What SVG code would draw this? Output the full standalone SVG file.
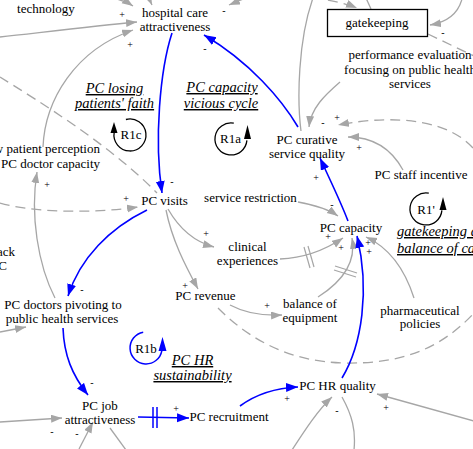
<svg xmlns="http://www.w3.org/2000/svg" width="473" height="449" viewBox="0 0 473 449">
<style>
.t{font-family:"Liberation Serif","Times New Roman",serif;font-size:13px;fill:#000;text-anchor:middle}
.st{text-anchor:start}
.en{text-anchor:end}
.i{font-style:italic;font-size:14.5px;text-decoration:underline}
.s{font-family:"Liberation Serif","Times New Roman",serif;font-size:10px;fill:#000;text-anchor:middle}
.g{fill:none;stroke:#a6a6a6;stroke-width:1.3}
.a{marker-end:url(#ag)}
.d{stroke-dasharray:10,6}
.b{fill:none;stroke:#0000ff;stroke-width:1.6;marker-end:url(#ab)}
.h{stroke:#a6a6a6;stroke-width:1.2}
.hb{stroke:#0000ff;stroke-width:1.5}
.loop{fill:none;stroke:#000;stroke-width:1.3}
.loopb{fill:none;stroke:#0000ff;stroke-width:1.5}
</style>
<defs>
<marker id="ag" markerUnits="userSpaceOnUse" markerWidth="12" markerHeight="9" refX="11" refY="4" orient="auto"><path d="M0,0 L11,4 L0,8 z" fill="#a6a6a6"/></marker>
<marker id="ab" markerUnits="userSpaceOnUse" markerWidth="13" markerHeight="10" refX="12" refY="4.5" orient="auto"><path d="M0,0 L12,4.5 L0,9 z" fill="#0000ff"/></marker>
</defs>
<rect width="473" height="449" fill="#fff"/>
<g id="connectors">
<path class="g a" d="M0,37 C45,32 95,26 137,22"/>
<path class="g a" d="M108,-3 Q124,0 133,6"/>
<path class="g a" d="M147,-6 L152,5"/>
<path class="g a" d="M255,-6 L229,5"/>
<path class="g a" d="M43,147 C45,100 75,50 133,30"/>
<path class="g d" d="M0,77 C40,102 110,145 157,193"/>
<path class="g d a" d="M0,203 C30,212 90,214 138,207"/>
<path class="g a" d="M55,298 C38,265 30,215 37,172"/>
<path class="g a" d="M0,332 L26,327"/>
<path class="g a" d="M0,422 L62,418"/>
<path class="g a" d="M79,449 L93,422"/>
<path class="g" d="M110,428 L126,450"/>
<path class="g a" d="M168,209 C180,230 195,242 214,247"/>
<path class="g a" d="M166,210 C172,240 185,265 198,289"/>
<path class="g a" d="M230,305 C245,313 262,316 282,315"/>
<path class="g d" d="M218,308 C250,340 290,362 345,363 C400,364 440,350 475,312"/>
<path class="g d a" d="M473,148 C450,122 400,113 338,125"/>
<path class="g d" d="M428,34 L474,56"/>
<path class="g d a" d="M312,-2 C330,0 345,3 357,8"/>
<path class="g" d="M366,-2 L371,9"/>
<path class="g a" d="M462,-1 C458,14 448,22 430,25"/>
<path class="g a" d="M340,82 C325,95 311,108 309,127"/>
<path class="g" d="M301,131 C297,100 298,40 313,-2"/>
<path class="g a" d="M403,170 C392,150 375,137 348,137"/>
<path class="g a" d="M298,202 C315,205 328,209 338,216"/>
<path class="g a" d="M280,259 C305,258 325,250 343,238"/>
<line class="h" x1="304" y1="247" x2="310" y2="268"/>
<line class="h" x1="308" y1="246" x2="314" y2="267"/>
<path class="g a" d="M318,297 C345,280 356,260 352,238"/>
<line class="h" x1="335" y1="266" x2="357" y2="273"/>
<line class="h" x1="334" y1="270" x2="356" y2="277"/>
<path class="g a" d="M414,298 C405,270 390,248 366,237"/>
<path class="b" d="M348,221 C340,200 330,180 320,158"/>
<path class="b" d="M298,127 C282,100 250,62 204,35"/>
<path class="b" d="M172,33 C160,70 154,140 162,193"/>
<path class="b" d="M147,210 C110,228 80,258 68,296"/>
<path class="b" d="M63,328 C64,355 72,375 88,395"/>
<path class="b" d="M138,417 L189,418"/>
<line class="hb" x1="153" y1="407" x2="153" y2="428"/>
<line class="hb" x1="157" y1="407" x2="157" y2="428"/>
<path class="b" d="M240,406 C255,395 275,388 298,387"/>
<path class="b" d="M342,378 C362,345 370,290 357,236"/>
<path class="g a" d="M292,450 C305,430 318,410 332,397"/>
<path class="g" d="M342,397 C352,415 356,430 354,450"/>
<path class="g a" d="M474,421 L377,394"/>
<g id="signs">
<text class="s" x="122" y="17.5">+</text>
<text class="s" x="224" y="14">-</text>
<text class="s" x="130" y="47.5">+</text>
<text class="s" x="205" y="52">-</text>
<text class="s" x="172" y="185">-</text>
<text class="s" x="126" y="202">+</text>
<text class="s" x="47" y="187.5">+</text>
<text class="s" x="82" y="293">-</text>
<text class="s" x="206" y="237">+</text>
<text class="s" x="185" y="288.5">+</text>
<text class="s" x="323" y="126">-</text>
<text class="s" x="337" y="120.5">+</text>
<text class="s" x="359" y="151">+</text>
<text class="s" x="443" y="36">-</text>
<text class="s" x="316" y="180.5">+</text>
<text class="s" x="332" y="208">-</text>
<text class="s" x="328" y="239.5">+</text>
<text class="s" x="341" y="250.5">+</text>
<text class="s" x="368" y="245.5">+</text>
<text class="s" x="369" y="254.5">+</text>
<text class="s" x="267" y="308.5">+</text>
<text class="s" x="287" y="401.5">+</text>
<text class="s" x="337" y="414">-</text>
<text class="s" x="386" y="410.5">+</text>
<text class="s" x="176" y="411.5">+</text>
<text class="s" x="92" y="386">-</text>
<text class="s" x="52" y="435">-</text>
<text class="s" x="77" y="437">-</text>
</g>
</g>
<g id="technology"><text class="t" x="46" y="13">technology</text></g>
<g id="hospital-care-attractiveness"><text class="t" x="175" y="17">hospital care</text><text class="t" x="175" y="31">attractiveness</text></g>
<g id="gatekeeping"><rect x="327.5" y="9.5" width="100" height="27" fill="#fff" stroke="#000" stroke-width="1.3"/><text class="t" x="377" y="27">gatekeeping</text></g>
<g id="performance-evaluation"><text class="t" x="410" y="59">performance evaluation</text><text class="t" x="410" y="74">focusing on public health</text><text class="t" x="410" y="88">services</text></g>
<g id="pc-curative-service-quality"><text class="t" x="307" y="144">PC curative</text><text class="t" x="307" y="158">service quality</text></g>
<g id="pc-staff-incentive"><text class="t" x="421" y="179">PC staff incentive</text></g>
<g id="service-restriction"><text class="t" x="250.5" y="202">service restriction</text></g>
<g id="pc-capacity"><text class="t" x="351" y="232">PC capacity</text></g>
<g id="pc-visits"><text class="t" x="164.5" y="205">PC visits</text></g>
<g id="clinical-experiences"><text class="t" x="247.5" y="251">clinical</text><text class="t" x="247.5" y="265">experiences</text></g>
<g id="pc-revenue"><text class="t" x="205.5" y="300">PC revenue</text></g>
<g id="balance-of-equipment"><text class="t" x="310" y="308">balance of</text><text class="t" x="310" y="322">equipment</text></g>
<g id="pharmaceutical-policies"><text class="t" x="420" y="315">pharmaceutical</text><text class="t" x="420" y="328">policies</text></g>
<g id="pc-hr-quality"><text class="t" x="337.5" y="390">PC HR quality</text></g>
<g id="pc-recruitment"><text class="t" x="229" y="421">PC recruitment</text></g>
<g id="pc-job-attractiveness"><text class="t" x="100" y="409.5">PC job</text><text class="t" x="100" y="424">attractiveness</text></g>
<g id="pc-doctors-pivoting"><text class="t" x="63" y="309">PC doctors pivoting to</text><text class="t" x="62" y="323">public health services</text></g>
<g id="patient-perception"><text class="t en" x="100" y="153">w patient perception</text><text class="t en" x="100" y="168">PC doctor capacity</text></g>
<g id="lack-node"><text class="t en" x="15" y="256">ack</text><text class="t en" x="7" y="270">C</text></g>
<g id="loop-r1c"><text class="t i" x="114.5" y="93">PC losing</text><text class="t i" x="114.5" y="108">patients' faith</text><path class="loop" d="M125.9,119.5 A16,16 0 1 1 114.2,132.2"/><polygon points="110.5,133 117.5,133 114,122" fill="#000"/><text class="t" x="131" y="139">R1c</text></g>
<g id="loop-r1a"><text class="t i" x="222" y="92">PC capacity</text><text class="t i" x="221" y="108">vicious cycle</text><path class="loop" d="M233.8,123.2 A16,16 0 1 0 246.9,140.4"/><polygon points="244,139 251,139 247.5,125" fill="#000"/><text class="t" x="230.5" y="143">R1a</text></g>
<g id="loop-r1prime"><text class="t i st" x="397" y="236">gatekeeping and</text><text class="t i st" x="397" y="253">balance of care</text><path class="loop" d="M428.8,193.2 A16,16 0 1 0 441.9,210.4"/><polygon points="439.5,210 446.5,210 443,197" fill="#000"/><text class="t" x="426" y="214">R1'</text></g>
<g id="loop-r1b"><text class="t i" x="192.5" y="365">PC HR</text><text class="t i" x="192.5" y="380">sustainability</text><path class="loopb" d="M143.2,332.2 A16,16 0 1 0 161.8,350.8"/><polygon points="158.5,351 166.5,351 162.5,337" fill="#0000ff"/><text class="t" x="146" y="353">R1b</text></g>
</svg>
